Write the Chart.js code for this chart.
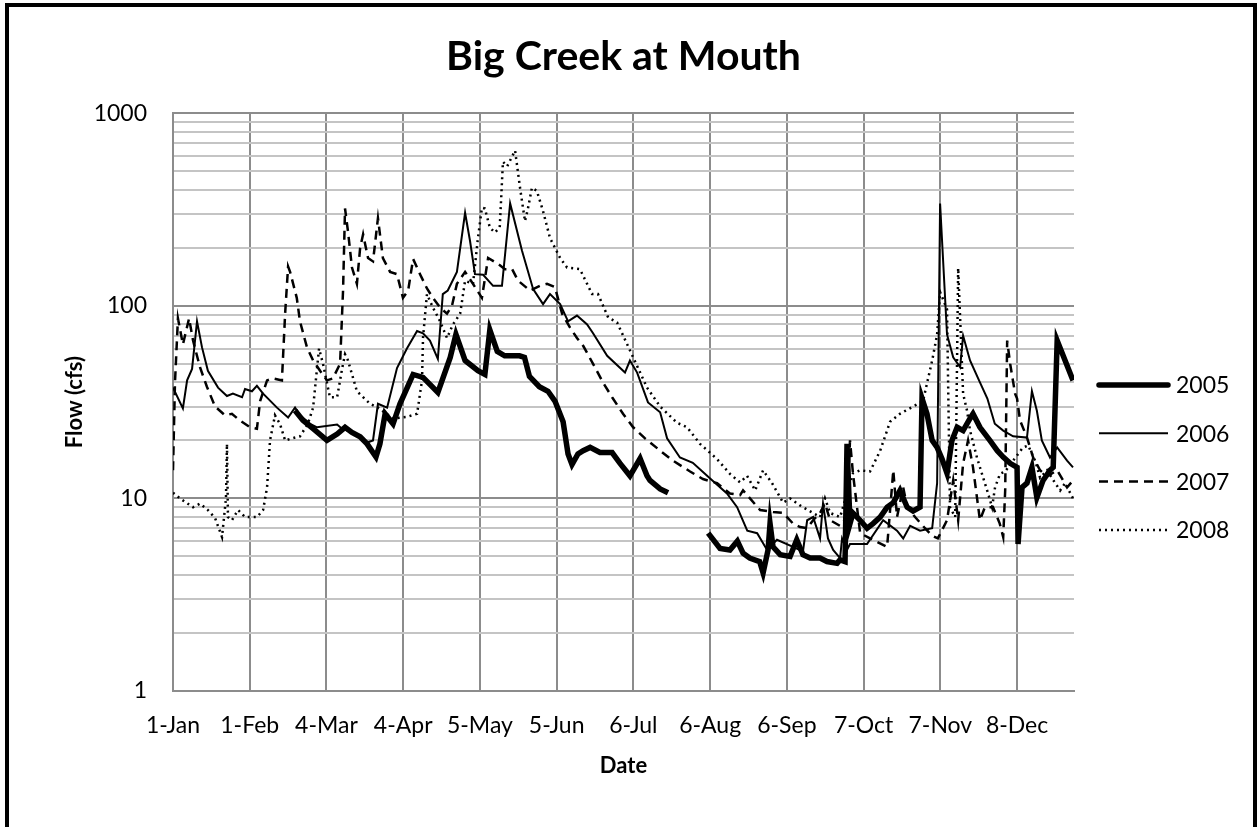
<!DOCTYPE html>
<html>
<head>
<meta charset="utf-8">
<script src="https://cdn.jsdelivr.net/npm/chart.js@4.4.1/dist/chart.umd.min.js"></script>
<style>
  html, body { margin: 0; padding: 0; overflow: hidden; background: #fff; }
  #wrap { position: absolute; left: 0; top: 0; width: 1257px; height: 827px; }
  #frame { position: absolute; left: 5px; top: 3px; width: 1252px; height: 900px;
           border: 4px solid #000; box-sizing: border-box; pointer-events: none; }
</style>
</head>
<body>
<div id="wrap"><canvas id="flowChart" width="1257" height="827"></canvas></div>
<div id="frame"></div>
<script>
/************ DATA ************/
const seriesNames = ["2005", "2006", "2007", "2008"];

const xTickDays = [0, 31, 62, 93, 124, 155, 186, 217, 248, 279, 310, 341];
const xTickLabels = ["1-Jan", "1-Feb", "4-Mar", "4-Apr", "5-May", "5-Jun", "6-Jul",
                     "6-Aug", "6-Sep", "7-Oct", "7-Nov", "8-Dec"];
const yTickValues = [1, 2, 3, 4, 5, 6, 7, 8, 9,
                     10, 20, 30, 40, 50, 60, 70, 80, 90,
                     100, 200, 300, 400, 500, 600, 700, 800, 900, 1000];
const yTickLabels = { 1: "1", 10: "10", 100: "100", 1000: "1000" };

// day of year (0 = 1-Jan), flow in cfs; null = missing record
const days2005 = [49.3, 52.5, 56.6, 62.2, 66.3, 69.5, 72.3, 75.6, 78.4, 82, 83.6, 85.7, 88.9, 91.7, 97, 101, 107, 112, 114.3,
  118, 123.2, 126, 128, 131, 134, 140, 142, 144, 148, 151.5, 154.3, 157.6, 159.6, 161.2, 163.6, 165.7, 168.5, 172.5,
  177.4, 180.6, 184.6, 188.7, 191.5, 192.7, 196.8, 200, 205,
  216.2, 221, 225, 228, 230.3, 233, 237, 238.4, 240.4, 241.2, 242.4, 245.3, 249.3, 252, 254.5, 257.4, 261.4, 264.2,
  268.3, 269.5, 271.5, 272.3, 273.5, 274.7, 277.6, 280.4, 282.8, 285.7, 288.5, 291, 293.7, 296.6, 299, 301.8, 302.6,
  304.6, 306.7, 308.7, 310.7, 312.7, 314.7, 316.8, 319.2, 322, 323.2, 326, 330, 333, 335.4, 338.2, 341, 341.4, 343,
  345, 347, 349, 351.5, 354.3, 355.6, 357.2, 360.4, 363.6];
const flow2005 = [28.6, 25.4, 23, 20, 21.6, 23.4, 22, 20.9, 19.2, 16.4, 19.2, 27.5, 24.4, 31, 44, 42.5, 35.5, 54, 71,
  52, 46, 44, 75, 58, 55, 55, 54, 43, 38, 36, 32, 25, 17, 15, 17, 17.7, 18.4, 17.3,
  17.3, 15.2, 13.1, 16.1, 13.1, 12.4, 11.2, 10.7, null,
  6.6, 5.5, 5.4, 6.0, 5.2, 4.9, 4.7, 4.1, 5.4, 7.4, 5.6, 5.1, 5.0, 6.1, 5.1, 4.9, 4.9, 4.7,
  4.6, 4.8, 4.7, 19.2, 7.4, 8.4, 7.7, 7.0, 7.4, 8, 9, 9.5, 11, 9, 8.6, 9, 33,
  27.5, 20, 18.4, 16, 13.5, 20, 23.4, 22.5, 26, 27.5, 23.4, 20, 17.7, 16.4, 15.2, 14.5, 5.8, 11.4,
  12, 14.5, 10.1, 12.4, 14, 14.5, 66, 52, 41];

const days2006 = [0, 4, 5.7, 7.7, 9.7, 11.7, 14.1, 18.2, 21.8, 24.2, 27.9, 29.1, 31.9, 33.9, 36.4, 42, 46.5, 49.3, 51.3,
  55.4, 58.2, 66.3, 68.3, 72.7, 78.4, 80.8, 82.8, 86.5, 90.5, 94.5, 98.6, 101, 103.8, 107, 109, 111, 114.7, 118,
  120, 122, 125.3, 129.3, 132.9, 136.2, 141, 145.5, 149.5, 152.3, 156.4, 159.6, 163.2, 167.3, 169.7, 175.4, 182.6,
  184.6, 187.5, 191.9, 196.8, 199.6, 204.8, 210, 217, 223.8, 227.9, 232, 236, 240, 244, 250.5, 254.5, 256.2, 258.6,
  261.4, 262.6, 264.6, 266.7, 269.5, 270.3, 272.3, 273.5, 280.4, 286.9, 292.5, 295, 297.8, 301.8, 306.7, 308.7,
  309.9, 312.7, 315.2, 318, 319.2, 322, 326, 329, 332, 335.4, 339.4, 345, 347, 349, 351, 354.3, 357.2, 361.2, 363.6];
const flow2006 = [37.6, 29.3, 41, 47, 83, 61, 46, 37.6, 34, 35, 33.5, 37, 36, 38.4, 35, 29.6, 26.3, 29.6, 27,
  24.4, 23.4, 24.2, 23, 22, 19.5, 20, 31, 29.6, 47.5, 60, 74, 72, 66, 53, 115, 120, 150, 304,
  217, 146, 145, 127, 127, 340, 193, 122, 102, 115, 102, 83, 89, 80, 72, 55, 45,
  52, 45, 31.5, 28, 20.5, 16.3, 15.3, 12.7, 10.6, 9, 6.8, 6.6, 5.4, 6.1, 5.6, 5.3, 7.7, 8,
  6.2, 9.4, 6.2, 5.4, 4.9, 6.2, 5.4, 5.8, 5.8, 7.7, 6.8, 6.2, 7.2, 6.8, 7.0, 12,
  340, 71, 54, 48, 70, 52, 40, 33, 24.4, 22.5, 21, 20.7, 36, 28.5, 20, 16.3, 18.4, 15.7, 14.5];

const days2007 = [0, 0.8, 2, 4, 6.5, 8.1, 10.9, 13.7, 17, 21, 23.8, 27, 31.1, 33.9, 35.2, 38, 40.4, 44, 45.3, 46.5,
  47.3, 50, 51.3, 54.1, 56.6, 59.4, 62.2, 64.6, 67.5, 68.7, 69.5, 70.7, 72.3, 74.3, 75.6, 76.8, 78.8, 80.8, 82.8,
  84.8, 87.7, 90.5, 92.9, 95, 97, 99.8, 102.6, 105, 107.9, 110.7, 112.7, 114.7, 118, 121.2, 124.8, 127.3, 131.3,
  134.1, 137, 139.4, 144.2, 148.3, 151.1, 154.3, 157.2, 160.4, 163.2, 165.7, 169.7, 173.7, 177.4, 181.8, 185.9,
  190.7, 196.8, 202, 208.9, 214.1, 219.8, 225, 229.1, 230.3, 233.1, 237.2, 242.4, 246.5, 250.5, 253.3, 256.2,
  258.6, 261.4, 263.4, 265.5, 269.5, 272.3, 273.5, 274.7, 277.6, 281.6, 288.5, 291, 292.5, 295, 296.6, 299.8,
  303.8, 306.7, 309, 312.7, 315.2, 317.2, 319.2, 321.2, 323.2, 324.8, 326, 328, 331.3, 334, 335.4, 336.2, 337,
  338.2, 340.2, 341, 342.2, 345, 347.5, 350.3, 353.1, 357.2, 359.6, 361.2, 363.6];
const flow2007 = [14, 40, 86, 63, 86, 66, 48, 38, 30, 27, 27.5, 25.4, 23.4, 23, 32, 41, 42, 41, 91, 160,
  150, 110, 83, 61, 52, 46, 41, 42, 50, 120, 320, 243, 158, 130, 200, 235, 177, 170, 285,
  177, 150, 146, 110, 120, 175, 146, 123, 110, 98, 91, 100, 130, 150, 130, 110, 177, 165,
  155, 155, 135, 120, 127, 130, 125, 91, 77, 68, 62, 50, 40, 33.5, 27.5, 23.4,
  20.5, 17.7, 15.7, 13.8, 12.6, 12, 10.6, 10.4, 11, 10, 8.7, 8.5, 8.4, 7.4, 7.1, 7,
  7.7, 8.4, 9.4, 7.7, 7.2, 8, 20, 13.5, 6.6, 6.2, 5.6, 14, 8, 11.4, 9, 8,
  7, 6.4, 6.2, 7.7, 12.4, 7.7, 15.2, 20, 14.5, 10.1, 7.7, 9, 9, 7.4, 6.3, 11, 66,
  50, 35, 33, 25.4, 20.7, 16.3, 14, 13, 14, 12.4, 11.4, 12.4];

const days2008 = [0, 2.8, 8.1, 10.9, 14.1, 17, 19.8, 21.4, 21.8, 22.2, 23.8, 26.3, 29.1, 33.9, 36.4, 38, 39.2, 41.2,
  43.2, 45.3, 48.1, 51.3, 54.5, 56.6, 58.2, 59, 60.6, 63.4, 66.3, 68.3, 69.5, 70.7, 74.3, 79.6, 82.8, 88.9, 94.5,
  98.6, 100.6, 101, 102.6, 105, 107.9, 110.7, 113.1, 116, 118, 121.2, 123.2, 124.8, 126, 128, 130, 132, 133.3, 135,
  138.2, 140.2, 142.2, 143.4, 145, 147, 149.5, 152.3, 156.4, 159.2, 164.4, 169.3, 171.7, 175.8, 179.4, 185.9,
  191.5, 196.8, 203.6, 207.7, 212.9, 219.8, 225, 229.1, 231.9, 235.2, 238.4, 242, 246.5, 249.3, 253.3, 258.6,
  261.4, 263.4, 265.5, 269.5, 274.7, 277.6, 281.6, 285.7, 289.7, 293.7, 299, 303, 306.7, 308.7, 309.9, 312.7,
  313.9, 316, 317.2, 319.2, 320.8, 322, 324.8, 327.3, 329.3, 330.9, 332.1, 334.1, 336.2, 339.4, 343.4, 345.5,
  348.3, 350.3, 353.1, 356.4, 358.4, 360.4, 363.6];
const flow2008 = [10.7, 10, 9, 9.4, 8.7, 7.9, 6.3, 10, 19.2, 8, 7.7, 8.7, 8, 8, 8.7, 11.4, 20, 27,
  24.4, 20, 20.5, 21, 24.4, 29.6, 47.5, 60, 50, 33.5, 33.5, 47, 56, 52, 36, 31, 29.6, 26, 26.5,
  27.5, 41, 68, 115, 98, 83, 68, 80, 91, 135, 130, 225, 323, 320, 255, 240, 255, 560, 530,
  640, 410, 275, 320, 410, 395, 310, 225, 177, 158, 155, 115, 115, 87, 82, 54,
  37.6, 30, 24.7, 23.4, 19.2, 16, 13.4, 12.1, 13.1, 11, 14, 12, 9.5, 10, 9.2, 8.4,
  8, 10, 8.4, 8, 13.5, 14, 13.8, 17.7, 25, 27.5, 30, 32, 52, 71, 118, 96,
  9, 8, 157, 35, 28.5, 22.5, 16.3, 12.8, 10.6, 9, 11.4, 13.4, 13.8, 15.7, 18.4, 18.8,
  15.7, 12.8, 14, 12, 11, 12, 10];

/************ STYLE ************/
const FONT = "Lato";
const seriesWidth = [5.5, 2, 2.5, 2.5];
const seriesDash = [[], [], [9, 6], [2, 4]];

function toPoints(days, flows) {
  return days.map((d, i) => ({ x: d, y: flows[i] }));
}

const allDays = [days2005, days2006, days2007, days2008];
const allFlows = [flow2005, flow2006, flow2007, flow2008];

const datasets = seriesNames.map((name, i) => ({
  label: name,
  data: toPoints(allDays[i], allFlows[i]),
  borderColor: "#000",
  borderWidth: seriesWidth[i],
  borderDash: seriesDash[i],
  pointRadius: 0,
  tension: 0,
  spanGaps: false,
  fill: false
}));

/************ LEGEND (drawn at right, like the sheet) ************/
const sideLegend = {
  id: "sideLegend",
  afterDraw(chart) {
    const ctx = chart.ctx;
    ctx.save();
    chart.data.datasets.forEach((ds, i) => {
      const y = 385 + i * 48.3;
      ctx.beginPath();
      ctx.strokeStyle = ds.borderColor;
      ctx.lineWidth = ds.borderWidth;
      ctx.setLineDash(ds.borderDash);
      ctx.lineCap = i === 0 ? "round" : "butt";
      ctx.moveTo(1099, y);
      ctx.lineTo(1168, y);
      ctx.stroke();
      ctx.setLineDash([]);
      ctx.fillStyle = "#000";
      ctx.font = "23px " + FONT;
      ctx.textAlign = "left";
      ctx.textBaseline = "middle";
      ctx.fillText(ds.label, 1176, y + 1);
    });
    ctx.restore();
  }
};

/************ CHART ************/
const ctx = document.getElementById("flowChart").getContext("2d");

new Chart(ctx, {
  type: "line",
  data: { datasets: datasets },
  plugins: [sideLegend],
  options: {
    responsive: false,
    animation: false,
    devicePixelRatio: 1,
    layout: { padding: { top: 0, left: 0, right: 10, bottom: 0 } },
    plugins: {
      legend: { display: false },
      tooltip: { enabled: false },
      title: {
        display: true,
        text: "Big Creek at Mouth",
        color: "#000",
        font: { family: FONT, size: 41, weight: "bold" },
        padding: { top: 32, bottom: 32 }
      }
    },
    scales: {
      x: {
        type: "linear",
        min: 0,
        max: 364,
        afterFit: s => { s.height = 136; },
        afterBuildTicks: s => { s.ticks = xTickDays.map(v => ({ value: v })); },
        ticks: {
          autoSkip: false,
          maxRotation: 0,
          padding: 21,
          color: "#000",
          font: { family: FONT, size: 23 },
          callback: (v) => xTickLabels[xTickDays.indexOf(v)]
        },
        grid: { color: "#8c8c8c", lineWidth: 2, drawTicks: false },
        border: { display: true, color: "#8c8c8c", width: 2 },
        title: {
          display: true,
          text: "Date",
          color: "#000",
          font: { family: FONT, size: 22, weight: "bold" },
          padding: { top: 0, bottom: 48 }
        }
      },
      y: {
        type: "logarithmic",
        min: 1,
        max: 1000,
        afterFit: s => { s.width = 173; },
        afterBuildTicks: s => { s.ticks = yTickValues.map(v => ({ value: v })); },
        ticks: {
          autoSkip: false,
          padding: 26,
          color: "#000",
          font: { family: FONT, size: 23 },
          callback: (v) => yTickLabels[v] || ""
        },
        grid: {
          drawTicks: false,
          lineWidth: 2,
          color: c => (yTickLabels[c.tick.value] ? "#8c8c8c" : "#c4c4c4")
        },
        border: { display: true, color: "#8c8c8c", width: 2 },
        title: {
          display: true,
          text: "Flow (cfs)",
          color: "#000",
          font: { family: FONT, size: 22, weight: "bold" },
          padding: { top: 62, bottom: 0 }
        }
      },
      // empty right-hand box keeps room for the legend
      side: {
        type: "linear",
        position: "right",
        afterFit: s => { s.width = 173; },
        ticks: { display: false },
        grid: { display: false, drawTicks: false },
        border: { display: false }
      }
    }
  }
});
</script>
</body>
</html>
